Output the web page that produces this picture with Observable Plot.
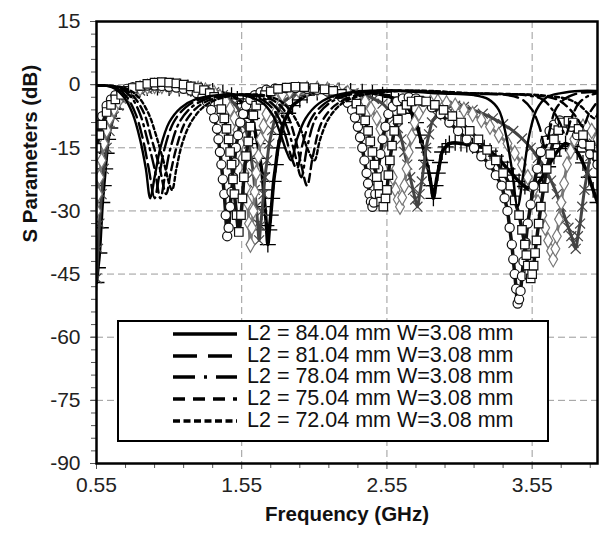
<!DOCTYPE html>
<html>
<head>
<meta charset="utf-8">
<script src="https://cdn.jsdelivr.net/npm/d3@7"></script>
<script src="https://cdn.jsdelivr.net/npm/@observablehq/plot@0.6"></script>
<style>
  html, body { margin: 0; padding: 0; background: #fff; }
  #wrap { position: relative; width: 599px; height: 534px; font-family: "Liberation Sans", Arial, sans-serif; }
  #legend { position: absolute; left: 117px; top: 320px; width: 432px; height: 122px; box-sizing: border-box;
            border: 2px solid #000; background: #fff; }
  .row { position: absolute; left: 0; height: 22px; width: 100%; }
  .row svg { position: absolute; left: 53px; top: 4px; }
  .row span { position: absolute; left: 128px; top: -1px; font-size: 21.5px; line-height: 22px; color: #111; white-space: nowrap; }
</style>
</head>
<body>
<div id="wrap"></div>
<script>
// Axis ticks
const yMajor = [15, 0, -15, -30, -45, -60, -75, -90];
const yMinor = d3.range(-90, 15.1, 3);
const xMajor = [0.55, 1.55, 2.55, 3.55];
const xMinor = [0.75, 0.95, 1.15, 1.35, 1.75, 1.95, 2.15, 2.35, 2.75, 2.95, 3.15, 3.35, 3.75, 3.95];

// Legend labels
const legendLabels = [
  "L2 = 84.04 mm W=3.08 mm",
  "L2 = 81.04 mm W=3.08 mm",
  "L2 = 78.04 mm W=3.08 mm",
  "L2 = 75.04 mm W=3.08 mm",
  "L2 = 72.04 mm W=3.08 mm"
];

// Line curves: [frequency GHz, dB]
const line84 = [[0.55,-0.2],[0.62,-0.3],[0.68,-1],[0.74,-3],[0.8,-7],[0.85,-13],[0.89,-20],[0.92,-27],[0.95,-22],[0.99,-15],[1.05,-9],[1.13,-5.5],[1.23,-3.5],[1.38,-2.5],[1.55,-2.5],[1.68,-4],[1.76,-7],[1.82,-12],[1.86,-16],[1.89,-18],[1.93,-13],[1.99,-8],[2.08,-4.5],[2.2,-2.5],[2.4,-1.5],[2.65,-1.5],[2.85,-2],[3.0,-2.2],[3.15,-2.5],[3.25,-3.5],[3.32,-6],[3.37,-12],[3.41,-20],[3.45,-29],[3.49,-21],[3.53,-12],[3.58,-6],[3.65,-3],[3.75,-2],[3.88,-1.5],[4.0,-1.5]];
const line81 = [[0.55,-0.2],[0.63,-0.3],[0.7,-1],[0.76,-3],[0.82,-7],[0.87,-13],[0.91,-20],[0.95,-27],[0.98,-22],[1.02,-15],[1.08,-9],[1.16,-5.5],[1.26,-3.5],[1.4,-2.5],[1.58,-2.5],[1.71,-4],[1.79,-7],[1.85,-12],[1.89,-17],[1.93,-20],[1.97,-14],[2.03,-8],[2.12,-4.5],[2.24,-2.5],[2.45,-1.5],[2.7,-1.5],[2.95,-2],[3.2,-2.2],[3.38,-2.5],[3.48,-3.5],[3.55,-6],[3.6,-10],[3.64,-15],[3.67,-11],[3.71,-6],[3.77,-3.5],[3.85,-2.2],[3.93,-1.8],[4.0,-1.8]];
const line78 = [[0.55,-0.2],[0.64,-0.3],[0.72,-1],[0.79,-3],[0.85,-7],[0.9,-13],[0.95,-20],[0.99,-27],[1.02,-22],[1.06,-15],[1.12,-9],[1.2,-5.5],[1.3,-3.5],[1.44,-2.5],[1.62,-2.5],[1.74,-4],[1.82,-7],[1.88,-12],[1.92,-17],[1.96,-22],[2.0,-15],[2.06,-8],[2.15,-4.5],[2.28,-2.5],[2.5,-1.5],[2.75,-1.5],[3.0,-2],[3.25,-2.2],[3.5,-2.5],[3.62,-3.5],[3.69,-6],[3.74,-9],[3.78,-12],[3.82,-8],[3.87,-4.5],[3.93,-2.8],[4.0,-2]];
const line75 = [[0.55,-0.2],[0.65,-0.3],[0.74,-1],[0.81,-3],[0.88,-7],[0.93,-13],[0.98,-19],[1.03,-26],[1.06,-21],[1.1,-15],[1.16,-9],[1.24,-5.5],[1.34,-3.5],[1.48,-2.5],[1.66,-2.5],[1.78,-4],[1.86,-7],[1.92,-13],[1.96,-19],[2.0,-24],[2.04,-17],[2.1,-9],[2.19,-5],[2.32,-2.7],[2.55,-1.6],[2.8,-1.5],[3.05,-2],[3.3,-2.2],[3.55,-2.5],[3.72,-3.5],[3.8,-5.5],[3.86,-8],[3.9,-10],[3.94,-7],[4.0,-4]];
const line72 = [[0.55,-0.2],[0.66,-0.3],[0.76,-1],[0.84,-3],[0.91,-7],[0.96,-12],[1.01,-18],[1.07,-25],[1.1,-20],[1.14,-14],[1.2,-9],[1.28,-5.5],[1.38,-3.5],[1.52,-2.5],[1.7,-2.5],[1.82,-4],[1.9,-7],[1.96,-11],[2.0,-15],[2.05,-18],[2.09,-13],[2.15,-8],[2.24,-4.5],[2.38,-2.5],[2.6,-1.6],[2.85,-1.5],[3.1,-2],[3.35,-2.2],[3.6,-2.5],[3.8,-3.5],[3.88,-5],[3.94,-7],[3.98,-8],[4.0,-7]];

// Marker curves: [frequency GHz, dB]
const circleSeries = [[0.55,-12],[0.57,-9.5],[0.59,-7.5],[0.62,-5],[0.65,-3.5],[0.68,-2.5],[0.72,-1.6],[0.76,-1],[0.8,-0.6],[0.85,-0.3],[0.9,-0.2],[0.95,-0.2],[1.0,-0.3],[1.05,-0.5],[1.1,-0.7],[1.15,-1],[1.2,-1.4],[1.24,-2],[1.28,-2.8],[1.31,-4],[1.34,-6],[1.36,-8],[1.38,-10.5],[1.39,-13],[1.4,-16],[1.41,-19],[1.42,-22.5],[1.43,-26],[1.44,-31],[1.45,-36],[1.46,-34],[1.47,-29],[1.48,-25.5],[1.49,-22],[1.5,-18.5],[1.51,-15],[1.525,-12],[1.54,-9],[1.56,-7],[1.58,-5],[1.61,-3.6],[1.64,-2.5],[1.68,-1.8],[1.72,-1.2],[1.78,-0.9],[1.85,-0.8],[1.92,-0.8],[2.0,-1],[2.07,-1.2],[2.14,-1.6],[2.2,-2.2],[2.24,-3],[2.28,-4.3],[2.31,-6],[2.33,-7.8],[2.35,-10],[2.365,-12.5],[2.38,-15],[2.395,-18],[2.41,-21],[2.42,-23.5],[2.43,-26],[2.44,-27.8],[2.45,-29],[2.46,-28],[2.47,-26],[2.48,-23],[2.49,-20],[2.505,-16.5],[2.52,-13],[2.54,-10],[2.56,-7],[2.59,-5.2],[2.62,-4],[2.66,-3.3],[2.7,-3],[2.75,-3.3],[2.8,-4],[2.86,-5.4],[2.92,-7],[2.98,-9],[3.04,-11],[3.1,-13],[3.15,-15],[3.2,-17],[3.26,-19],[3.3,-21.5],[3.34,-24],[3.36,-27],[3.38,-30],[3.395,-34],[3.41,-38],[3.42,-41.5],[3.43,-45],[3.44,-48.5],[3.45,-52],[3.46,-51],[3.47,-49],[3.48,-45.5],[3.49,-42],[3.505,-37.5],[3.52,-33],[3.54,-28.5],[3.56,-24],[3.585,-20],[3.61,-16],[3.64,-13.3],[3.67,-11],[3.7,-9.5],[3.74,-8.5],[3.78,-9],[3.82,-10],[3.86,-12],[3.9,-14],[3.95,-16.5],[4.0,-19]];
const squareSeries = [[0.55,-15],[0.57,-12],[0.59,-9.5],[0.62,-6.5],[0.65,-4.8],[0.68,-3.5],[0.72,-2.4],[0.76,-1.5],[0.8,-0.8],[0.85,-0.3],[0.9,0.2],[0.95,0.5],[1.0,0.6],[1.05,0.5],[1.1,0.3],[1.15,0],[1.2,-0.4],[1.25,-0.8],[1.29,-1.3],[1.33,-2],[1.36,-2.9],[1.39,-4],[1.41,-5.8],[1.43,-8],[1.445,-10.5],[1.46,-13],[1.47,-16],[1.48,-19],[1.49,-22.5],[1.5,-26],[1.515,-31],[1.53,-35],[1.545,-31],[1.555,-27],[1.565,-22],[1.58,-17],[1.595,-13.5],[1.61,-10],[1.63,-7.3],[1.65,-5],[1.68,-3.6],[1.71,-2.5],[1.75,-1.6],[1.8,-1],[1.86,-0.7],[1.92,-0.5],[1.98,-0.6],[2.05,-0.8],[2.12,-1.1],[2.18,-1.5],[2.24,-2.2],[2.3,-3],[2.34,-4.5],[2.37,-6],[2.4,-8.5],[2.42,-11],[2.435,-13.5],[2.45,-16],[2.465,-19],[2.48,-22],[2.49,-24],[2.5,-26],[2.51,-27.8],[2.525,-29],[2.54,-27],[2.55,-25],[2.56,-21.5],[2.57,-18],[2.585,-14.5],[2.6,-11],[2.625,-8.3],[2.65,-6],[2.685,-4.8],[2.72,-4],[2.77,-3.8],[2.82,-4],[2.88,-4.8],[2.94,-6],[3.0,-7.5],[3.06,-9],[3.12,-11],[3.18,-13],[3.24,-15.5],[3.3,-18],[3.35,-21],[3.4,-24],[3.43,-27.5],[3.46,-31],[3.48,-34.5],[3.5,-38],[3.51,-40.5],[3.52,-43],[3.53,-45],[3.54,-46],[3.55,-45],[3.56,-43],[3.57,-40],[3.58,-37],[3.595,-33],[3.61,-29],[3.63,-24.5],[3.65,-20],[3.675,-16.5],[3.7,-13],[3.73,-10.8],[3.76,-9],[3.8,-8.6],[3.83,-9],[3.87,-10.5],[3.9,-12],[3.95,-14.5],[4.0,-17]];
const diamondSeries = [[0.55,-30],[0.56,-26],[0.57,-22],[0.585,-18],[0.6,-14],[0.62,-10.8],[0.64,-8],[0.67,-5.8],[0.7,-4],[0.75,-2.6],[0.8,-1.5],[0.85,-0.9],[0.9,-0.5],[0.95,-0.3],[1.0,-0.3],[1.06,-0.4],[1.12,-0.5],[1.18,-0.7],[1.25,-1],[1.3,-1.4],[1.36,-2],[1.4,-2.9],[1.44,-4],[1.47,-5.8],[1.5,-8],[1.52,-10.8],[1.54,-14],[1.555,-17.5],[1.57,-21],[1.58,-24.5],[1.59,-28],[1.6,-33],[1.61,-38],[1.62,-34],[1.63,-30],[1.64,-25.5],[1.65,-21],[1.665,-17],[1.68,-13],[1.7,-9.8],[1.72,-7],[1.75,-5],[1.78,-3.5],[1.83,-2.3],[1.88,-1.5],[1.94,-1.2],[2.0,-1],[2.07,-1],[2.14,-1.2],[2.21,-1.5],[2.28,-2],[2.34,-2.9],[2.4,-4],[2.44,-5.8],[2.48,-8],[2.505,-10.5],[2.53,-13],[2.55,-16],[2.57,-19],[2.59,-22],[2.61,-25],[2.625,-27.3],[2.64,-29],[2.655,-26.8],[2.67,-24],[2.685,-20],[2.7,-16],[2.72,-12.3],[2.74,-9],[2.77,-6.8],[2.8,-5],[2.85,-4.3],[2.9,-4],[2.96,-4.4],[3.02,-5],[3.08,-6],[3.14,-7],[3.2,-8.4],[3.26,-10],[3.32,-12],[3.38,-14],[3.43,-16.3],[3.48,-19],[3.52,-22],[3.56,-25],[3.59,-28],[3.62,-31],[3.64,-34],[3.66,-37],[3.68,-39.5],[3.695,-41.5],[3.71,-39],[3.72,-36],[3.735,-32],[3.75,-28],[3.77,-23.5],[3.79,-19],[3.815,-15.8],[3.84,-13],[3.87,-11.3],[3.9,-10],[3.93,-10.2],[3.96,-11],[4.0,-13]];
const timesSeries = [[0.55,-46],[0.56,-39],[0.57,-33],[0.585,-26],[0.6,-20],[0.62,-15],[0.64,-11],[0.67,-7.6],[0.7,-5],[0.75,-3.3],[0.8,-2],[0.85,-1.4],[0.9,-1],[0.95,-0.8],[1.0,-0.6],[1.07,-0.5],[1.15,-0.6],[1.22,-0.8],[1.3,-1.2],[1.36,-1.8],[1.42,-2.5],[1.46,-3.4],[1.5,-4.5],[1.53,-6],[1.56,-8],[1.58,-10.8],[1.6,-14],[1.615,-17.5],[1.63,-21],[1.64,-25],[1.65,-29],[1.66,-33],[1.67,-37],[1.68,-33.5],[1.69,-30],[1.7,-26],[1.71,-22],[1.725,-18],[1.74,-14],[1.76,-10.8],[1.78,-8],[1.81,-5.8],[1.84,-4],[1.89,-2.8],[1.94,-2],[2.01,-1.5],[2.08,-1.2],[2.16,-1.3],[2.24,-1.5],[2.32,-2],[2.4,-2.5],[2.46,-3.4],[2.52,-4.5],[2.56,-6],[2.6,-8],[2.625,-10.3],[2.65,-13],[2.67,-16],[2.69,-19],[2.71,-22],[2.73,-25],[2.745,-27.3],[2.76,-29],[2.775,-26],[2.79,-23],[2.805,-19],[2.82,-15],[2.84,-11.8],[2.86,-9],[2.89,-7.3],[2.92,-6],[2.97,-5.4],[3.02,-5],[3.08,-5.3],[3.14,-6],[3.21,-6.9],[3.28,-8],[3.35,-9.4],[3.42,-11],[3.48,-12.8],[3.54,-15],[3.59,-17.4],[3.64,-20],[3.68,-22.8],[3.72,-26],[3.75,-29],[3.78,-32],[3.8,-34],[3.82,-36],[3.835,-37.6],[3.85,-39],[3.865,-36],[3.88,-33],[3.895,-29],[3.91,-25],[3.93,-21],[3.95,-17],[3.975,-14],[4.0,-11]];
const plusSeries = [[0.55,-47],[0.56,-43.5],[0.57,-40],[0.58,-34],[0.59,-28],[0.6,-24],[0.61,-20],[0.62,-16.3],[0.63,-13],[0.645,-10.3],[0.66,-8],[0.685,-5.8],[0.71,-4],[0.75,-2.6],[0.8,-1.5],[0.85,-1.1],[0.9,-0.8],[0.97,-0.7],[1.05,-0.8],[1.12,-0.9],[1.2,-1],[1.27,-1.2],[1.35,-1.5],[1.42,-2],[1.48,-2.5],[1.52,-3.4],[1.56,-4.5],[1.59,-6],[1.62,-8],[1.64,-10.8],[1.66,-14],[1.675,-17.5],[1.69,-21],[1.7,-25],[1.71,-29],[1.72,-33.5],[1.73,-38],[1.74,-34.5],[1.75,-31],[1.76,-27],[1.77,-23],[1.785,-19],[1.8,-15],[1.82,-11.8],[1.84,-9],[1.87,-6.8],[1.9,-5],[1.95,-3.6],[2.0,-2.5],[2.07,-1.9],[2.15,-1.5],[2.22,-1.4],[2.3,-1.5],[2.38,-1.7],[2.45,-2],[2.52,-2.4],[2.58,-3],[2.63,-3.9],[2.68,-5],[2.72,-6.8],[2.75,-9],[2.775,-12],[2.8,-15],[2.82,-18],[2.84,-21],[2.855,-24],[2.87,-27],[2.885,-24],[2.9,-21],[2.915,-18.5],[2.93,-16],[2.955,-14.8],[2.98,-14],[3.02,-13.8],[3.06,-14],[3.1,-14.2],[3.14,-14.5],[3.18,-14.7],[3.22,-15],[3.26,-15.8],[3.3,-17],[3.34,-18.4],[3.38,-20],[3.42,-21.5],[3.46,-23],[3.5,-24.2],[3.54,-25],[3.58,-23.8],[3.62,-22],[3.66,-19.5],[3.7,-17],[3.74,-15.2],[3.78,-14],[3.82,-14.7],[3.86,-16],[3.9,-18.6],[3.94,-22],[3.97,-25],[4.0,-28]];

const rows = pairs => pairs.map(([f, db]) => ({f, db}));

const lineStyles = [
  {data: line84, dash: null,          legendDash: null},
  {data: line81, dash: "15,6",        legendDash: "24,11"},
  {data: line78, dash: "13,5,2,5",    legendDash: "22,9,3,9"},
  {data: line75, dash: "8,5",         legendDash: "12,8"},
  {data: line72, dash: "4,3",         legendDash: "7,3.5"}
];

const markerStyles = [
  {data: plusSeries,    symbol: "plus",    stroke: "#000", fill: "none",  r: 5.2, sw: 1.3, lw: 3.5},
  {data: timesSeries,   symbol: "times",   stroke: "#444", fill: "none",  r: 4.6, sw: 1.2, lw: 3},
  {data: diamondSeries, symbol: "diamond", stroke: "#777", fill: "white", r: 4.6, sw: 1.2, lw: 3},
  {data: circleSeries,  symbol: "circle",  stroke: "#111", fill: "white", r: 4.6, sw: 1.2, lw: 3.5},
  {data: squareSeries,  symbol: "square",  stroke: "#111", fill: "white", r: 4.8, sw: 1.2, lw: 3.5}
];

const curveMarks = [];
for (const m of markerStyles) {
  curveMarks.push(Plot.line(rows(m.data), {x: "f", y: "db", curve: "catmull-rom", stroke: m.stroke, strokeWidth: m.lw, clip: true}));
  curveMarks.push(Plot.dot(rows(m.data), {x: "f", y: "db", symbol: m.symbol, r: m.r, stroke: m.stroke, fill: m.fill, strokeWidth: m.sw, clip: true}));
}
for (const l of lineStyles) {
  curveMarks.push(Plot.line(rows(l.data), {x: "f", y: "db", curve: "catmull-rom", stroke: "#000", strokeWidth: 2.4,
    strokeDasharray: l.dash, clip: true}));
}

const chart = Plot.plot({
  width: 599,
  height: 534,
  marginLeft: 96,
  marginRight: 2,
  marginTop: 21,
  marginBottom: 71,
  style: {fontFamily: "'Liberation Sans', Arial, sans-serif", background: "#fff", color: "#222"},
  x: {domain: [0.55, 4.0]},
  y: {domain: [-90, 15]},
  marks: [
    Plot.gridY(yMajor.filter(v => v !== 15 && v !== -90), {stroke: "#9a9a9a", strokeOpacity: 1, strokeDasharray: "7,4"}),
    Plot.gridX(xMajor.slice(1), {stroke: "#9a9a9a", strokeOpacity: 1, strokeDasharray: "7,4"}),
    Plot.axisY(yMinor, {tickSize: 5, tickFormat: () => "", stroke: "#555", label: null}),
    Plot.axisY(yMajor, {tickSize: 6, tickPadding: 10, tickFormat: d => String(d), fontSize: 21, fill: "#222", stroke: "#555", label: null}),
    Plot.axisX(xMinor, {tickSize: 5, tickFormat: () => "", stroke: "#555", label: null}),
    Plot.axisX(xMajor, {tickSize: 6, tickPadding: 8, tickFormat: d => d.toFixed(2), fontSize: 21, fill: "#222", stroke: "#555", label: null}),
    ...curveMarks,
    Plot.frame({stroke: "#000", strokeWidth: 2.5}),
    Plot.text(["S Parameters (dB)"], {text: d => d, frameAnchor: "left", dx: -66, rotate: -90, fontSize: 20.5, fontWeight: "bold", fill: "#111"}),
    Plot.text(["Frequency (GHz)"], {text: d => d, frameAnchor: "bottom", dy: 57, fontSize: 20.5, fontWeight: "bold", fill: "#111"})
  ]
});

const wrap = document.getElementById("wrap");
wrap.appendChild(chart);

// Legend box drawn over the plot area
const legend = document.createElement("div");
legend.id = "legend";
lineStyles.forEach((l, i) => {
  const row = document.createElement("div");
  row.className = "row";
  row.style.top = (1 + i * 21.7) + "px";
  const dash = l.legendDash ? ` stroke-dasharray="${l.legendDash}"` : "";
  row.innerHTML = `<svg width="66" height="14"><line x1="1" y1="7" x2="65" y2="7" stroke="#000" stroke-width="3.5"${dash}/></svg><span>${legendLabels[i]}</span>`;
  legend.appendChild(row);
});
wrap.appendChild(legend);
</script>
</body>
</html>
